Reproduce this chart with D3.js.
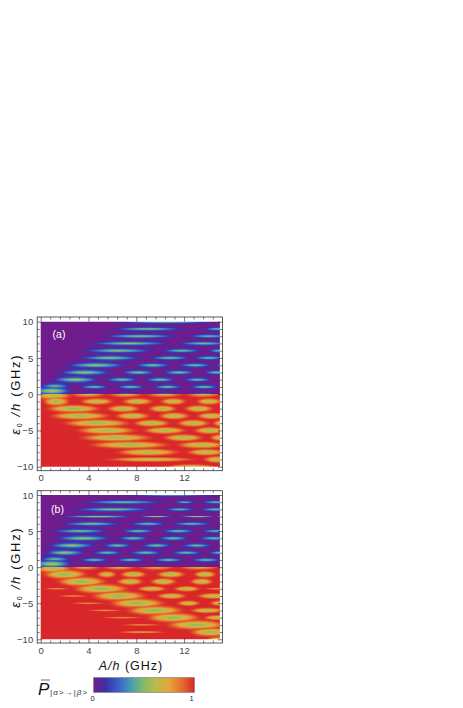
<!DOCTYPE html>
<html><head><meta charset="utf-8">
<script src="https://cdn.jsdelivr.net/npm/d3@7"></script>
<style>html,body{margin:0;background:#fff}svg{display:block}text{font-family:"Liberation Sans",Arial,sans-serif}</style>
</head><body><svg id="c" width="463" height="708"></svg>
<script>
// Resonance lobes: [epsilon row, A start, A end, half thickness (GHz), peak P]
const aUpper=[
[10,5.8,15,.32,.44],[9,5.8,12.2,.3,.46],[9,13.6,16,.3,.42],[8,5,11.65,.32,.47],[8,12.2,16,.3,.42],
[7,3.85,11,.32,.48],[7,11.25,16,.3,.45],[6,3.3,9.7,.36,.47],[6,10,13.6,.32,.44],[6,13.9,16,.3,.42],
[5,3,8.6,.38,.48],[5,9,12.65,.34,.44],[5,12.65,15.6,.32,.43],[4,1.9,7.35,.42,.5],[4,7.75,11,.36,.45],[4,11.4,14.45,.34,.44],[4,14.6,16,.3,.42],
[3,1.35,6.1,.44,.5],[3,6.65,9.7,.36,.46],[3,10.1,13.05,.34,.46],[3,13.5,16,.32,.44],
[2,.8,5,.46,.52],[2,5.25,8.3,.36,.44],[2,8.6,11.4,.34,.45],[2,11.8,14.45,.32,.44],
[1,3.15,5.8,.32,.44],[1,6.2,8.85,.32,.45],[1,9.3,11.95,.32,.45],[1,12.35,15,.32,.45],
[1.1,-.2,2.6,.45,.42],[.45,-.8,2.7,.6,.55],[0,3.0,5.6,.2,.3],[0,5.8,8.6,.2,.3],[0,8.8,11.8,.2,.3],[0,12,15,.2,.3]];
const aLower=[
[0,2.4,5.5,.36,.72],[0,5.6,8.6,.36,.72],[0,8.8,11.9,.36,.72],[0,12.1,15.1,.36,.72],[-.2,-.5,2.6,.5,.62],
[-1,.2,2.4,.5,.55],[-1,3.3,6.1,.36,.6],[-1,6.8,9.4,.36,.58],[-1,10,12.2,.36,.6],[-1,13,15.2,.36,.6],
[-2,.5,5,.42,.52],[-2,5.5,8.3,.38,.58],[-2,9,11.4,.38,.58],[-2,12,14.45,.38,.58],
[-3,.8,5.8,.42,.54],[-3,6.2,9.15,.38,.58],[-3,9.85,12.5,.38,.58],[-3,13.05,15.5,.36,.58],
[-4,1.9,7.5,.42,.54],[-4,7.75,10.8,.38,.56],[-4,11.4,14.15,.38,.56],[-4,14.4,16,.36,.6],
[-5,3,8,.42,.55],[-5,8.6,12.2,.38,.56],[-5,12.8,15.5,.38,.57],
[-6,3.3,9.4,.42,.55],[-6,10.25,13.6,.38,.56],[-6,14.15,16,.36,.6],
[-7,4.1,10.8,.4,.55],[-7,11.4,15.5,.38,.56],
[-8,6.35,11.65,.38,.56],[-8,12.2,15.5,.36,.58],
[-9,5.5,13,.26,.62],[-9,13.6,16,.36,.58],[-10,10.5,14.7,.26,.6]];
const bUpper=[
[10,7,15,.24,.35],[9,3.3,10.55,.3,.45],[9,11.1,13,.24,.42],[9,13.35,16,.28,.42],
[8,2.45,9.7,.32,.46],[8,10.25,13,.28,.42],[8,13.2,16,.28,.44],
[7,1.6,8,.2,.55],[7,8.15,11.1,.12,.6],[7,11.5,14.7,.12,.6],[7,14.7,16,.12,.6],
[6,1.6,6.9,.34,.46],[6,7.35,10.6,.32,.43],[6,10.8,14.45,.3,.43],
[5,.8,5.8,.34,.46],[5,6.65,9.7,.32,.44],[5,10,13.05,.32,.44],[5,13.35,16,.3,.42],
[4,1.05,6.1,.42,.5],[4,6.35,9.15,.34,.45],[4,9.7,12.5,.34,.45],[4,13.05,16,.32,.44],
[3,.5,4.7,.44,.5],[3,5.1,7.75,.34,.45],[3,8.3,11.1,.34,.45],[3,11.65,14.45,.32,.44],
[2,.2,3.85,.44,.5],[2,4.25,6.9,.34,.44],[2,7.35,10.25,.34,.45],[2,10.8,13.6,.32,.44],[2,13.9,16,.3,.42],
[1,3.15,5.8,.32,.44],[1,6.2,8.85,.32,.45],[1,9.3,12.1,.32,.45],[1,12.5,15.2,.32,.45],
[1.1,-.2,2.6,.45,.42],[.45,-.8,2.7,.6,.55]];
const bLower=[
[0,2.4,5,.34,.75],[0,5.2,8,.34,.75],[0,8.2,11.2,.34,.75],[0,11.5,15,.34,.75],[-.2,-.5,2.6,.5,.6],
[-1,.2,3.85,.52,.52],[-1,4.7,6.35,.36,.62],[-1,6.65,8.85,.36,.56],[-1,9.7,12.1,.36,.56],[-1,12.8,14.7,.36,.56],
[-2,1.35,5.5,.52,.52],[-2,6.35,8.6,.38,.58],[-2,9.15,11.4,.38,.58],[-2,12.5,14.45,.36,.58],
[-3,2.75,7.35,.52,.52],[-3,.2,2.45,.12,.8],[-3,8.05,10.55,.3,.6],[-3,11.1,13.35,.3,.6],[-3,13.6,16,.14,.8],
[-4,4.25,8.85,.52,.52],[-4,1.35,4.1,.12,.8],[-4,9.7,12.2,.32,.58],[-4,13.05,16,.32,.6],
[-5,5.8,10.4,.52,.52],[-5,2.45,5.5,.12,.8],[-5,11.4,13.35,.3,.6],[-5,14.15,16,.3,.6],
[-6,7.2,11.95,.52,.52],[-6,3.85,6.9,.12,.8],[-6,12.5,15.4,.3,.6],
[-7,8.85,13.35,.52,.52],[-7,5,8.6,.12,.8],[-7,13.6,16,.28,.6],
[-8,10.55,15.5,.52,.52],[-8,6.65,10.25,.12,.8],
[-9,6.35,10.55,.14,.75],[-9,12.5,16,.48,.54],[-10,13.9,16,.3,.62]];
const xMajor=[0,4,8,12];
const xMinor=[.8,1.6,2.4,3.2,4.8,5.6,6.4,7.2,8.8,9.6,10.4,11.2,12.8,13.6,14.4];
const yMajor=[-10,-5,0,5,10];
const yMinor=[-9,-8,-7,-6,-4,-3,-2,-1,1,2,3,4,6,7,8,9];
const colorStops=[0,.12,.25,.38,.5,.62,.75,.88,1];
const colorValues=["#6f1d8c","#3d2fa8","#3a63c8","#4a9fb0","#86bb66","#bcbb48","#e3a63a","#e56a2c","#d8262a"];

const svg=d3.select("#c"),defs=svg.append("defs");
const color=d3.scaleLinear().domain(colorStops).range(colorValues);
defs.append("filter").attr("id","soft").attr("filterUnits","userSpaceOnUse")
  .attr("x",0).attr("y",300).attr("width",240).attr("height",360)
  .append("feGaussianBlur").attr("stdDeviation",.6);
const x=d3.scaleLinear().domain([0,15]).range([40.7,219.9]);

function grad(bg,p){
  const id=`g${Math.round(bg*10)}_${Math.round(p*100)}`;
  if(defs.select("#"+id).empty()){
    const g=defs.append("radialGradient").attr("id",id);
    d3.range(0,1.01,.1).forEach(r=>{
      g.append("stop").attr("offset",r).attr("stop-color",color(bg+(p-bg)*(1-Math.pow(r,1.3))))
       .attr("stop-opacity",r<.6?1:1-(r-.6)/.4);
    });
  }
  return `url(#${id})`;
}
function panel(name,label,lx,ly,yTop,yBot,fTop,fBot,upper,lower){
  const y=d3.scaleLinear().domain([-10,10]).range([yBot,yTop]);
  const mid=Math.round(y(0));
  const cp=(id,t,b)=>defs.append("clipPath").attr("id",id).append("rect")
    .attr("x",x(0)).attr("width",x(15)-x(0)).attr("y",t).attr("height",b-t);
  cp(name+"U",y(10),mid);cp(name+"L",mid,y(-10));
  const g=svg.append("g");
  const half=(id,bg,data,coreRy)=>{
    const h=g.append("g").attr("clip-path",`url(#${name}${id})`).append("g").attr("filter","url(#soft)");
    h.append("rect").attr("x",x(0)-8).attr("width",x(15)-x(0)+16)
      .attr("y",y(bg?0:10)-8).attr("height",y(0)-y(10)+16).attr("fill",color(bg));
    h.append("g").selectAll("ellipse").data(data).join("ellipse")
      .attr("cx",d=>x((d[1]+d[2])/2)).attr("cy",d=>y(d[0]))
      .attr("rx",d=>(x(d[2])-x(d[1]))/2*1.2).attr("ry",d=>(y(0)-y(d[3]))*1.7)
      .attr("fill",d=>grad(bg,bg+(d[4]-bg)*.62));
    h.append("g").selectAll("ellipse").data(data).join("ellipse")
      .attr("cx",d=>x((d[1]+d[2])/2)).attr("cy",d=>y(d[0]))
      .attr("rx",d=>(x(d[2])-x(d[1]))/2*1.02).attr("ry",d=>(y(0)-y(d[3]))*coreRy)
      .attr("fill",d=>grad(bg,d[4]+(bg?-.02:.05)));
  };
  half("U",0,upper,.95);half("L",1,lower,1.2);
  svg.append("rect").attr("x",37.2).attr("y",fTop).attr("width",185.3).attr("height",fBot-fTop)
    .attr("fill","none").attr("stroke","#333").attr("stroke-width",.8);
  const axes=[
    [d3.axisBottom(x),fBot,0,1],[d3.axisTop(x),fTop,0,0],
    [d3.axisLeft(y),37.2,1,1],[d3.axisRight(y),222.5,1,0]];
  axes.forEach(([ax,pos,isY,lab])=>{
    const t=isY?`translate(${pos},0)`:`translate(0,${pos})`;
    const mj=isY?yMajor:xMajor,mn=isY?yMinor:xMinor;
    const a=svg.append("g").attr("transform",t).call(ax.tickValues(mj).tickSizeInner(-4.5).tickSizeOuter(0).tickFormat(lab?d3.format("d"):""));
    const b=svg.append("g").attr("transform",t).call(ax.tickValues(mn).tickSizeInner(-2.5).tickSizeOuter(0).tickFormat(""));
    [a,b].forEach(s=>{s.select(".domain").remove();s.selectAll("line").attr("stroke","#222").attr("stroke-width",.6);
      s.selectAll("text").attr("font-size",9.5).attr("fill","#444");});
    if(isY)a.selectAll("text").attr("x",-4).attr("dy",".34em");
    else a.selectAll("text").attr("y",4).attr("dy","0.71em");
  });
  svg.append("text").attr("x",lx).attr("y",ly).attr("text-anchor","middle").attr("fill","#fff").attr("font-size",10.5).text(label);
  const cy=(yTop+yBot)/2;
  const t=svg.append("text").attr("transform",`translate(20,${cy}) rotate(-90)`).attr("text-anchor","middle")
    .attr("font-size",13).attr("fill","#111").attr("letter-spacing",1.7);
  t.append("tspan").attr("font-style","italic").text("ε");
  t.append("tspan").attr("font-size",7).attr("dy",2).text("0");
  t.append("tspan").attr("dy",-2).attr("font-style","italic").text(" /h");
  t.append("tspan").text(" (GHz)");
}
panel("a","(a)",59,338,321.7,466.7,317,470.7,aUpper,aLower);
panel("b","(b)",57.5,513,495,639.3,490.7,643,bUpper,bLower);

svg.append("text").attr("x",131).attr("y",670).attr("text-anchor","middle").attr("font-size",12.5).attr("fill","#111").attr("letter-spacing",1)
  .call(t=>{t.append("tspan").attr("font-style","italic").text("A/h");t.append("tspan").text(" (GHz)");});

// colour bar
const barX=d3.scaleLinear().domain([0,1]).range([93.5,194.5]);
const lg=defs.append("linearGradient").attr("id","bar");
colorStops.forEach((s,i)=>lg.append("stop").attr("offset",s).attr("stop-color",colorValues[i]));
svg.append("rect").attr("x",barX(0)).attr("y",677.5).attr("width",barX(1)-barX(0)).attr("height",15)
  .attr("fill","url(#bar)").attr("stroke","#888").attr("stroke-width",.7);
svg.selectAll(".bt").data([0,1]).join("text").attr("class","bt").attr("x",d=>barX(d)-(d?3:1)).attr("y",701)
  .attr("text-anchor","middle").attr("font-size",7.5).attr("fill","#222").text(d=>d);
svg.append("text").attr("x",38).attr("y",695).attr("font-size",17).attr("font-style","italic").attr("fill","#111").text("P");
svg.append("line").attr("x1",41).attr("x2",50).attr("y1",680).attr("y2",680).attr("stroke","#333").attr("stroke-width",.7);
svg.append("text").attr("x",50).attr("y",695).attr("font-size",8).attr("font-style","italic").attr("fill","#333").attr("textLength",37).text("|α>→|β>");
</script></body></html>
